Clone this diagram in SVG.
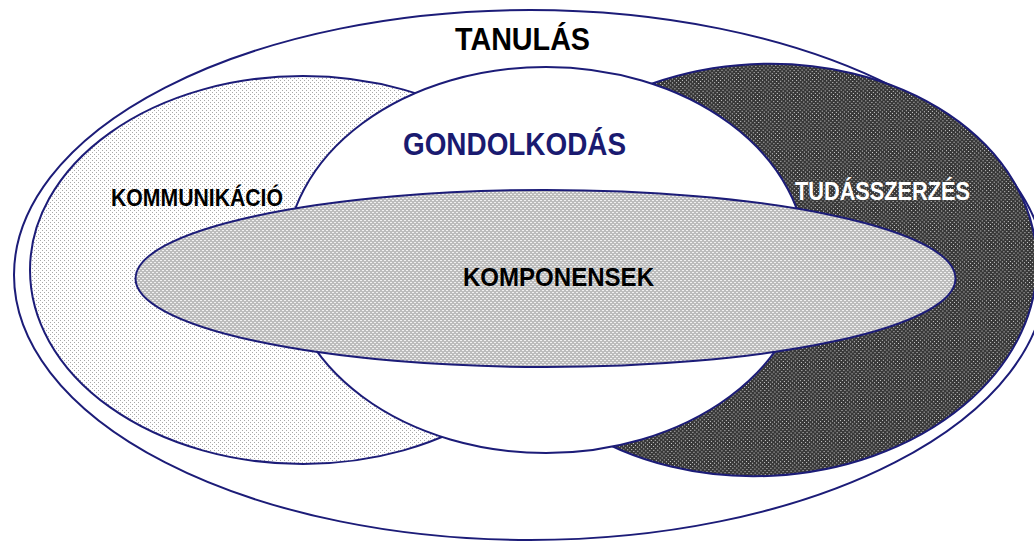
<svg xmlns="http://www.w3.org/2000/svg" width="1034" height="541" viewBox="0 0 1034 541">
<defs>
<pattern id="pLight" patternUnits="userSpaceOnUse" width="4" height="4">
<rect width="4" height="4" fill="#ffffff"/>
<rect x="0" y="0" width="1" height="1" fill="#a8a8a8"/>
<rect x="2" y="2" width="1" height="1" fill="#a8a8a8"/>
</pattern>
<pattern id="pGray" patternUnits="userSpaceOnUse" width="4" height="4">
<rect width="4" height="4" fill="#bcbcbc"/>
<rect x="0" y="0" width="2" height="1" fill="#f0f0f0"/>
<rect x="2" y="2" width="2" height="1" fill="#f0f0f0"/>
</pattern>
<pattern id="pDark" patternUnits="userSpaceOnUse" width="4" height="4">
<rect width="4" height="4" fill="#383838"/>
<rect x="0" y="0" width="1" height="1" fill="#d8d8d8"/>
<rect x="2" y="2" width="1" height="1" fill="#d8d8d8"/>
</pattern>
</defs>
<style>
.e{stroke:#1c1c78;stroke-width:2}
.t{font-family:"Liberation Sans",Arial,sans-serif;font-weight:bold}
</style>
<rect width="1034" height="541" fill="#ffffff"/>
<g id="tanulas">
<ellipse class="e" cx="530" cy="275" rx="516" ry="265" fill="#ffffff"/>
<text class="t" x="455" y="50" font-size="32" textLength="135" lengthAdjust="spacingAndGlyphs" fill="#000000">TANULÁS</text>
</g>
<g id="kommunikacio">
<ellipse class="e" cx="303" cy="270" rx="273" ry="194" fill="url(#pLight)"/>
<text class="t" x="111" y="206" font-size="24" textLength="172" lengthAdjust="spacingAndGlyphs" fill="#000000">KOMMUNIKÁCIÓ</text>
</g>
<g id="tudasszerzes">
<ellipse class="e" cx="762" cy="270" rx="275" ry="206" transform="rotate(-3 762 270)" fill="url(#pDark)"/>
<text class="t" x="795" y="200" font-size="25" textLength="175" lengthAdjust="spacingAndGlyphs" fill="#ffffff">TUDÁSSZERZÉS</text>
</g>
<g id="gondolkodas">
<ellipse class="e" cx="546" cy="260" rx="260" ry="193" fill="#ffffff"/>
<text class="t" x="403" y="155" font-size="32" textLength="223" lengthAdjust="spacingAndGlyphs" fill="#1a1a70">GONDOLKODÁS</text>
</g>
<g id="komponensek">
<ellipse class="e" cx="545.5" cy="278.5" rx="410" ry="88.5" fill="url(#pGray)"/>
<text class="t" x="463" y="286" font-size="26" textLength="191" lengthAdjust="spacingAndGlyphs" fill="#000000">KOMPONENSEK</text>
</g>
</svg>
